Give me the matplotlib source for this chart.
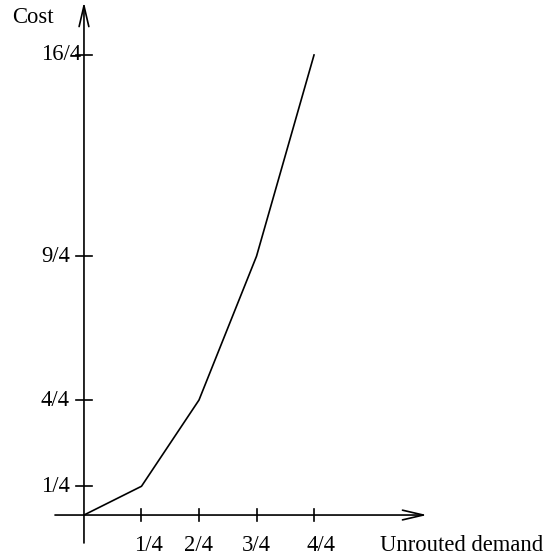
import numpy as np
from matplotlib import pyplot as plt

plt.rcParams['font.family'] = ['Liberation Serif', 'DejaVu Serif']

demand = [0, 1/4, 2/4, 3/4, 4/4]
cost = [0, 1/4, 4/4, 9/4, 16/4]
xtick_vals = [1/4, 2/4, 3/4, 4/4]
xtick_labels = ['1/4', '2/4', '3/4', '4/4']
ytick_vals = [1/4, 4/4, 9/4, 16/4]
ytick_labels = ['1/4', '4/4', '9/4', '16/4']

fig = plt.figure(figsize=(5.45, 5.60), dpi=100)
ax = fig.add_axes([0, 0, 1, 1])
ax.set_xlim(-0.365, 2.004)
ax.set_ylim(-0.391, 4.478)
ax.axis('off')

fs = 16.3
lw = 1.2
head = '->,head_length=1.5,head_width=0.35'

# axes with open arrow heads
ax.annotate('', xy=(1.491, 0), xytext=(-0.126, 0),
            arrowprops=dict(arrowstyle=head, lw=lw, color='black', shrinkA=0, shrinkB=0))
ax.annotate('', xy=(0, 4.46), xytext=(0, -0.243),
            arrowprops=dict(arrowstyle=head, lw=lw, color='black', shrinkA=0, shrinkB=0))

# ticks crossing the axes, labels nudged like the original
xlab_dx = [0.03, 0.0, 0.0, 0.03]
for xv, lab, dx in zip(xtick_vals, xtick_labels, xlab_dx):
    ax.plot([xv, xv], [-0.05, 0.05], color='black', lw=lw)
    ax.text(xv + dx, -0.261, lab, ha='center', va='center', fontsize=fs)
for yv, lab in zip(ytick_vals, ytick_labels):
    ax.plot([-0.035, 0.035], [yv, yv], color='black', lw=lw)
    ax.text(-0.187, yv, lab, ha='left', va='center', fontsize=fs)

ax.plot(demand, cost, color='black', lw=lw)

ax.text(-0.313, 4.322, 'Cost', ha='left', va='center', fontsize=fs)
ax.text(1.285, -0.261, 'Unrouted demand', ha='left', va='center', fontsize=fs)

plt.savefig('out.png', dpi=100)
